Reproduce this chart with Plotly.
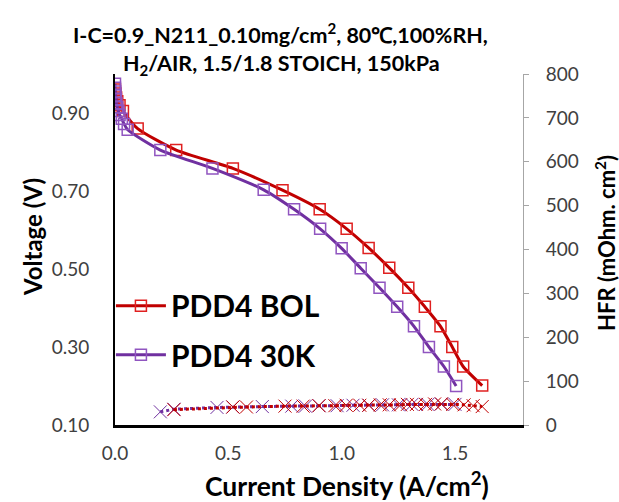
import plotly.graph_objects as go

# Polarization data
bol_i = [0.0, 0.002, 0.005, 0.01, 0.02, 0.035, 0.10, 0.27, 0.52, 0.739, 0.903, 1.022, 1.119, 1.21, 1.294, 1.367, 1.436, 1.488, 1.536, 1.62]
bol_v = [0.96, 0.95, 0.94, 0.93, 0.92, 0.905, 0.86, 0.805, 0.758, 0.702, 0.653, 0.603, 0.554, 0.503, 0.452, 0.403, 0.353, 0.300, 0.250, 0.201]

k30_i = [0.0, 0.0, 0.001, 0.002, 0.004, 0.006, 0.01, 0.015, 0.02, 0.03, 0.04, 0.056, 0.20, 0.43, 0.656, 0.79, 0.905, 1.0, 1.084, 1.167, 1.245, 1.319, 1.385, 1.451, 1.505]
k30_v = [0.975, 0.965, 0.955, 0.945, 0.935, 0.925, 0.915, 0.905, 0.895, 0.885, 0.872, 0.857, 0.805, 0.758, 0.703, 0.653, 0.603, 0.553, 0.502, 0.452, 0.403, 0.353, 0.300, 0.250, 0.200]

# HFR data (mOhm.cm2)
hfr_bol_i = [0.26, 0.52, 0.58, 0.75, 0.83, 0.90, 0.97, 1.02, 1.08, 1.12, 1.17, 1.21, 1.26, 1.29, 1.33, 1.37, 1.41, 1.44, 1.49, 1.54, 1.58, 1.62]
hfr_bol = [35, 41, 41, 43, 43, 44, 44, 45, 45, 45, 46, 46, 46, 47, 47, 47, 48, 48, 47, 46, 44, 42]
hfr_30k_i = [0.20, 0.26, 0.45, 0.52, 0.65, 0.78, 0.84, 0.90, 0.98, 1.05, 1.12, 1.18, 1.25, 1.31, 1.38, 1.44, 1.50]
hfr_30k = [30, 36, 40, 41, 42, 43, 43, 44, 44, 45, 45, 46, 46, 47, 47, 48, 47]

RED = "#C00000"
PURPLE = "#7030A0"

fig = go.Figure()

fig.add_trace(go.Scatter(x=hfr_30k_i, y=hfr_30k, yaxis="y2", mode="lines+markers",
    line=dict(color=PURPLE, width=3, dash="dot"),
    marker=dict(symbol="x-thin-open", size=13, line=dict(color="rgba(140,80,190,0.6)", width=1)),
    showlegend=False))
fig.add_trace(go.Scatter(x=hfr_bol_i, y=hfr_bol, yaxis="y2", mode="lines+markers",
    line=dict(color=RED, width=3, dash="dot"),
    marker=dict(symbol="x-thin-open", size=13, line=dict(color="rgba(255,110,70,0.6)", width=1)),
    showlegend=False))

fig.add_trace(go.Scatter(x=bol_i, y=bol_v, mode="lines+markers", name="PDD4 BOL",
    line=dict(color=RED, width=3, shape="spline", smoothing=0.6),
    marker=dict(symbol="square-open", size=11, color="#E02020", line=dict(width=1.5)),
    legend="legend"))
fig.add_trace(go.Scatter(x=k30_i, y=k30_v, mode="lines+markers", name="PDD4 30K",
    line=dict(color=PURPLE, width=3, shape="spline", smoothing=0.6),
    marker=dict(symbol="square-open", size=11, color="#9055C0", line=dict(width=1.5)),
    legend="legend2"))

tickfont = dict(family="Lato, Open Sans, sans-serif", size=19, color="#404040")
legfont = dict(family="Lato, sans-serif", size=30, color="black", weight="bold")

fig.update_layout(
    width=619, height=502,
    margin=dict(l=115, r=96, t=74, b=77),
    paper_bgcolor="white", plot_bgcolor="white",
    xaxis=dict(range=[0, 1.8], tickvals=[0, 0.5, 1.0, 1.5], ticktext=["0.0", "0.5", "1.0", "1.5"],
               showgrid=False, zeroline=False, showline=True, linecolor="black", linewidth=3,
               ticks="", tickfont=tickfont, ticklabelstandoff=9),
    yaxis=dict(range=[0.1, 1.0], tickvals=[0.1, 0.3, 0.5, 0.7, 0.9], tickformat=".2f",
               showgrid=False, zeroline=False, showline=True, linecolor="black", linewidth=2,
               ticks="", tickfont=tickfont, ticklabelstandoff=20),
    yaxis2=dict(range=[0, 800], dtick=100, overlaying="y", side="right", anchor="x",
                showgrid=False, zeroline=False, showline=True, linecolor="#A6A6A6", linewidth=1,
                ticks="outside", ticklen=5, tickcolor="#A6A6A6", tickfont=tickfont,
                ticklabelstandoff=13),
    legend=dict(x=-0.01, y=0.34, xanchor="left", yanchor="middle", bgcolor="rgba(0,0,0,0)",
                font=legfont, itemwidth=50),
    legend2=dict(x=-0.01, y=0.20, xanchor="left", yanchor="middle", bgcolor="rgba(0,0,0,0)",
                 font=legfont, itemwidth=50),
)

title_font = dict(family="Lato, sans-serif", size=21.5, color="black", weight="bold")
fig.add_annotation(text="I-C=0.9_N211_0.10mg/cm<sup>2</sup>, 80\u2103,100%RH,", xref="paper", yref="paper",
                   x=(280 - 115) / 408, y=1 + (74 - 33) / 351, xanchor="center", yanchor="middle",
                   showarrow=False, font=title_font)
fig.add_annotation(text="H<sub>2</sub>/AIR, 1.5/1.8 STOICH, 150kPa", xref="paper", yref="paper",
                   x=(281 - 115) / 408, y=1 + (74 - 64) / 351, xanchor="center", yanchor="middle",
                   showarrow=False, font=title_font)
fig.add_annotation(text="Current Density (A/cm<sup>2</sup>)", xref="paper", yref="paper",
                   x=(347 - 115) / 408, y=-(484 - 425) / 351, xanchor="center", yanchor="middle",
                   showarrow=False, font=dict(family="Lato, sans-serif", size=26.5, color="black", weight="bold"))
fig.add_annotation(text="Voltage (V)", xref="paper", yref="paper", textangle=-90,
                   x=-(115 - 32) / 408, y=(425 - 237) / 351, xanchor="center", yanchor="middle",
                   showarrow=False, font=dict(family="Lato, sans-serif", size=24, color="black", weight="bold"))
fig.add_annotation(text="HFR (mOhm. cm<sup>2</sup>)", xref="paper", yref="paper", textangle=-90,
                   x=1 + (605 - 523) / 408, y=(425 - 243) / 351, xanchor="center", yanchor="middle",
                   showarrow=False, font=dict(family="Lato, sans-serif", size=22, color="black", weight="bold"))

fig.write_html("out.html")
